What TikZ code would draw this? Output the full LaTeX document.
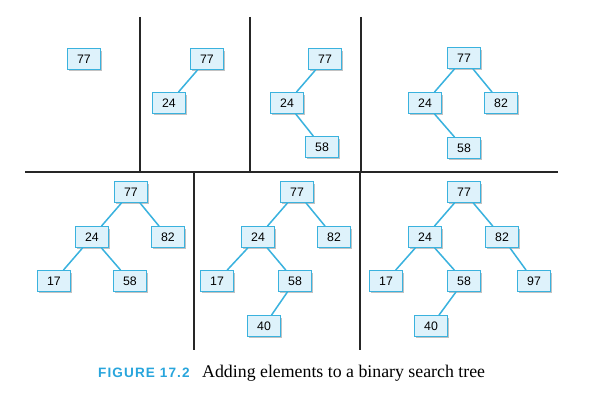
\documentclass[tikz,border=0pt]{standalone}
\usepackage{fontspec}
\setmainfont{Liberation Serif}
\newfontfamily\keyfont{Liberation Sans}
\newfontfamily\figfont[LetterSpace=8]{Liberation Sans}
\usetikzlibrary{shadows}
\definecolor{treeblue}{RGB}{58,178,222}
\definecolor{treefill}{RGB}{222,242,251}
\definecolor{figblue}{RGB}{40,165,220}
\tikzset{
  key/.style={draw=treeblue, fill=treefill, line width=1.2pt, minimum width=28pt,
    minimum height=17.5pt, inner sep=0pt, font=\keyfont\fontsize{10.5}{12}\selectfont,
    drop shadow={shadow xshift=1.5pt, shadow yshift=-1.5pt, fill=black!40, opacity=0.6}},
  link/.style={treeblue, line width=1.3pt},
  divider/.style={black!85, line width=1pt}
}

\begin{document}
\begin{tikzpicture}[x=0.03cm, y=-0.03cm]
\useasboundingbox (0,0) rectangle (611,402);

% panel borders
\draw[divider] (25,172) -- (558,172);
\draw[divider] (140,17) -- (140,172);
\draw[divider] (250,17) -- (250,172);
\draw[divider] (361,17) -- (361,172);
\draw[divider] (194,172) -- (194,350);
\draw[divider] (360,172) -- (360,350);

% step 1
\node[key] (a77) at (84,59) {77};

% step 2
\node[key] (b77) at (207,59) {77};
\node[key] (b24) at (169,103) {24};
\draw[link] (b77) -- (b24);

% step 3
\node[key] (c77) at (325,59) {77};
\node[key] (c24) at (287,103) {24};
\node[key] (c58) at (322,147) {58};
\draw[link] (c77) -- (c24);
\draw[link] (c24) -- (c58);

% step 4
\node[key] (d77) at (464,58) {77};
\node[key] (d24) at (425,103) {24};
\node[key] (d82) at (501,103) {82};
\node[key] (d58) at (464,148) {58};
\draw[link] (d77) -- (d24);
\draw[link] (d77) -- (d82);
\draw[link] (d24) -- (d58);

% step 5
\node[key] (e77) at (131,192) {77};
\node[key] (e24) at (92,237) {24};
\node[key] (e82) at (168,237) {82};
\node[key] (e17) at (54,281) {17};
\node[key] (e58) at (130,281) {58};
\draw[link] (e77) -- (e24);
\draw[link] (e77) -- (e82);
\draw[link] (e24) -- (e17);
\draw[link] (e24) -- (e58);

% step 6
\node[key] (f77) at (297,192) {77};
\node[key] (f24) at (258,237) {24};
\node[key] (f82) at (334,237) {82};
\node[key] (f17) at (217,281) {17};
\node[key] (f58) at (295,281) {58};
\node[key] (f40) at (264,326) {40};
\draw[link] (f77) -- (f24);
\draw[link] (f77) -- (f82);
\draw[link] (f24) -- (f17);
\draw[link] (f24) -- (f58);
\draw[link] (f58) -- (f40);

% step 7
\node[key] (g77) at (464,192) {77};
\node[key] (g24) at (425,237) {24};
\node[key] (g82) at (502,237) {82};
\node[key] (g17) at (386,281) {17};
\node[key] (g58) at (464,281) {58};
\node[key] (g97) at (534,281) {97};
\node[key] (g40) at (431,326) {40};
\draw[link] (g77) -- (g24);
\draw[link] (g77) -- (g82);
\draw[link] (g24) -- (g17);
\draw[link] (g24) -- (g58);
\draw[link] (g82) -- (g97);
\draw[link] (g58) -- (g40);

% caption
\node[anchor=base west, inner sep=0pt, text=figblue, font=\figfont\bfseries\fontsize{11.6}{13}\selectfont]
  (figlabel) at (98,378) {FIGURE 17.2};
\node[anchor=base west, inner sep=0pt, font=\fontsize{15.2}{17}\selectfont]
  (figtext) at (202,378) {Adding elements to a binary search tree};
\end{tikzpicture}
\end{document}
